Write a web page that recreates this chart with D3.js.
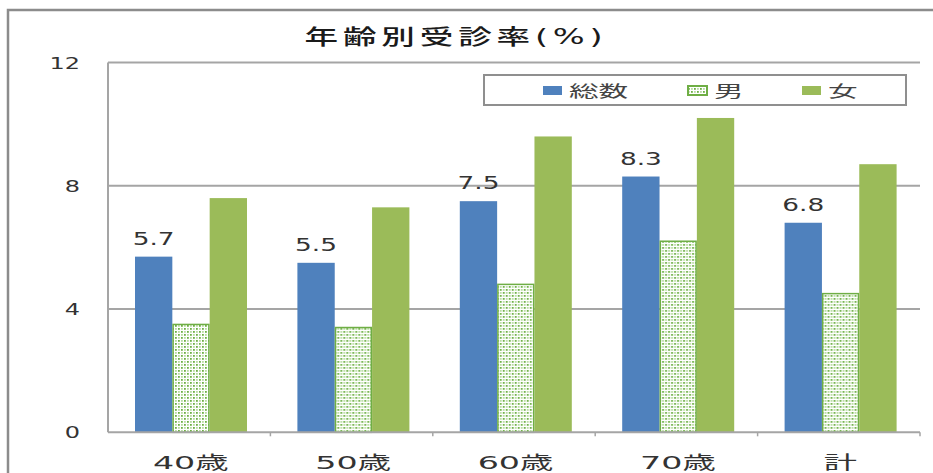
<!DOCTYPE html>
<html lang="ja">
<head>
<meta charset="utf-8">
<script src="https://cdn.jsdelivr.net/npm/d3@7"></script>
<style>
  html, body { margin: 0; padding: 0; background: #fff; }
  svg { display: block; }
  text { font-family: "DejaVu Sans", "Noto Sans CJK JP", sans-serif; }
</style>
</head>
<body>
<svg id="chart" width="933" height="473"></svg>
<script>
// Screening rate by age group (%)
const title = "年齢別受診率(%)";
const categories = ["40歳", "50歳", "60歳", "70歳", "計"];
const seriesNames = ["総数", "男", "女"];
const totalValues = [5.7, 5.5, 7.5, 8.3, 6.8];
const maleValues = [3.5, 3.4, 4.8, 6.2, 4.5];
const femaleValues = [7.6, 7.3, 9.6, 10.2, 8.7];
const yTicks = [0, 4, 8, 12];

const seriesValues = [totalValues, maleValues, femaleValues];
const rows = categories.map((c, i) => ({
  category: c,
  values: seriesNames.map((s, k) => ({ series: s, value: seriesValues[k][i] }))
}));

const svg = d3.select("#chart");
const blue = "#4F81BD", green = "#9BBB59", maleEdge = "#6FAE45";
const gridColor = "#A5A5A5", frameColor = "#8C8C8C", textColor = "#333";

// dotted fill for the male series
const defs = svg.append("defs");
const pat = defs.append("pattern")
  .attr("id", "dots").attr("patternUnits", "userSpaceOnUse")
  .attr("width", 6).attr("height", 6);
pat.append("rect").attr("width", 6).attr("height", 6).attr("fill", "#fff");
[[1, 1, "#6DB044"], [4, 4, "#6DB044"], [4, 1, "#B9DCA2"], [1, 4, "#B9DCA2"]].forEach(([x, y, c]) =>
  pat.append("rect").attr("x", x).attr("y", y).attr("width", 1.8).attr("height", 1.8).attr("fill", c));

// chart area frame
svg.append("path")
  .attr("d", "M8,473 V10 H933")
  .attr("fill", "none").attr("stroke", frameColor).attr("stroke-width", 2.5);

const plot = { left: 108, right: 920, top: 62.5, bottom: 432.3 };
const x0 = d3.scaleBand().domain(categories).range([plot.left, plot.right]).padding(0);
const x1 = d3.scaleBand().domain(seriesNames).range([27, 139]).padding(0);
const y = d3.scaleLinear().domain([0, 12]).range([plot.bottom, plot.top]);

const fill = { "総数": blue, "男": "url(#dots)", "女": green };

// horizontal gridlines
svg.append("g").selectAll("line")
  .data(yTicks.filter(t => t > 0))
  .join("line")
  .attr("x1", plot.left).attr("x2", plot.right)
  .attr("y1", d => y(d)).attr("y2", d => y(d))
  .attr("stroke", gridColor).attr("stroke-width", 2);

// y tick labels
svg.append("g").selectAll("text")
  .data(yTicks)
  .join("text")
  .attr("text-anchor", "end")
  .attr("transform", d => `translate(80,${y(d) + 6}) scale(1.5,1)`)
  .attr("font-size", 16).attr("fill", textColor)
  .text(d => d);

// bars
const groups = svg.append("g").selectAll("g")
  .data(rows)
  .join("g")
  .attr("transform", d => `translate(${x0(d.category)},0)`);

groups.selectAll("rect")
  .data(d => d.values)
  .join("rect")
  .attr("x", d => x1(d.series) + (d.series === "男" ? 0.75 : 0))
  .attr("width", d => x1.bandwidth() - (d.series === "男" ? 1.5 : 0))
  .attr("y", d => y(d.value))
  .attr("height", d => y(0) - y(d.value))
  .attr("fill", d => fill[d.series])
  .attr("stroke", d => d.series === "男" ? maleEdge : "none")
  .attr("stroke-width", 1.5);

// value labels on the total bars
groups.append("text")
  .attr("text-anchor", "middle")
  .attr("transform", d => `translate(${x1("総数") + x1.bandwidth() / 2},${y(d.values[0].value) - 12}) scale(1.55,1)`)
  .attr("font-size", 17).attr("fill", textColor)
  .text(d => d.values[0].value.toFixed(1));

// y axis and baseline
svg.append("line")
  .attr("x1", plot.left).attr("x2", plot.left)
  .attr("y1", plot.top).attr("y2", plot.bottom)
  .attr("stroke", gridColor).attr("stroke-width", 2);
svg.append("line")
  .attr("x1", plot.left).attr("x2", plot.right)
  .attr("y1", plot.bottom).attr("y2", plot.bottom)
  .attr("stroke", gridColor).attr("stroke-width", 2);
svg.append("g").selectAll("line")
  .data(categories)
  .join("line")
  .attr("x1", d => x0(d) + x0.bandwidth()).attr("x2", d => x0(d) + x0.bandwidth())
  .attr("y1", plot.bottom).attr("y2", plot.bottom + 4)
  .attr("stroke", gridColor).attr("stroke-width", 1.5);

// category labels
svg.append("g").selectAll("text")
  .data(categories)
  .join("text")
  .attr("text-anchor", "middle")
  .attr("transform", d => `translate(${x0(d) + x0.bandwidth() / 2 + 1.5},469) scale(1.85,1)`)
  .attr("font-size", 18).attr("fill", textColor)
  .text(d => d);

// title
svg.append("text")
  .attr("text-anchor", "middle")
  .attr("transform", "translate(456,44) scale(1.6,1)")
  .attr("font-family", "Noto Sans CJK JP")
  .attr("font-size", 21).attr("font-weight", 500).attr("fill", "#1a1a1a")
  .attr("letter-spacing", 3)
  .text(title);

// legend
const legend = svg.append("g");
legend.append("rect")
  .attr("x", 484).attr("y", 75).attr("width", 422).attr("height", 30)
  .attr("fill", "#fff").attr("stroke", "#8F8F8F").attr("stroke-width", 2);
const legendX = [543, 688, 802];
seriesNames.forEach((s, i) => {
  legend.append("rect")
    .attr("x", legendX[i]).attr("y", 86).attr("width", 19).attr("height", 9)
    .attr("fill", s === "男" ? "url(#dots)" : fill[s])
    .attr("stroke", s === "男" ? maleEdge : "none").attr("stroke-width", 2);
  legend.append("text")
    .attr("transform", `translate(${legendX[i] + 26},97) scale(1.85,1)`)
    .attr("font-family", "Noto Sans CJK JP")
    .attr("font-size", 16).attr("fill", "#444")
    .text(s);
});
</script>
</body>
</html>
